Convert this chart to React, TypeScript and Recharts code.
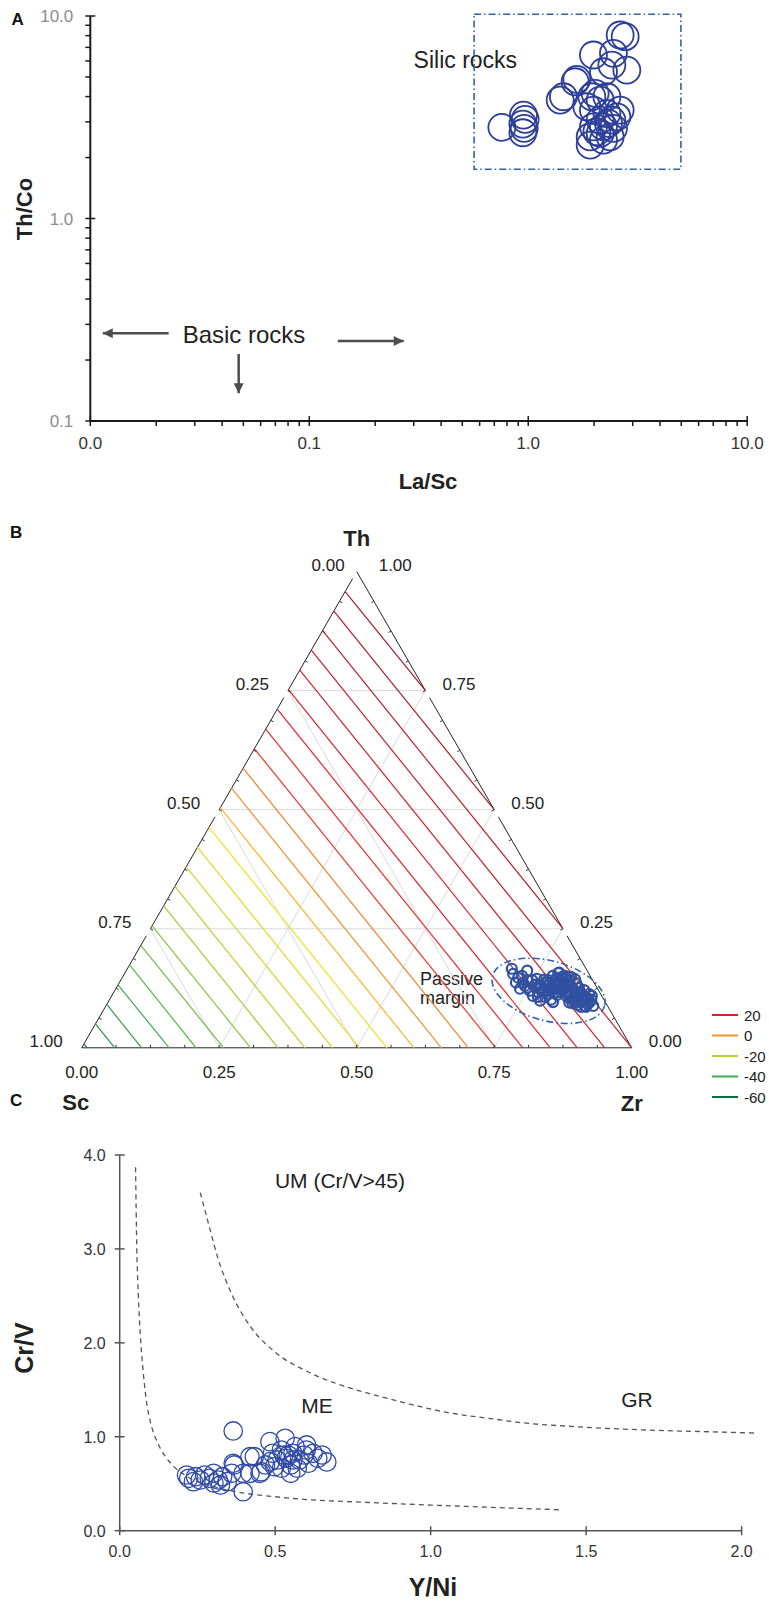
import React from 'react';
import { ComposedChart, Scatter, Line, XAxis, YAxis, ReferenceArea, ReferenceLine } from 'recharts';

const FONT = '"Liberation Sans", Arial, Helvetica, sans-serif';
const BLUE_A = '#2d3f99';
const BLUE_B = '#3050a0';
const BLUE_C = '#2f4aa5';
const BOX_BLUE = '#2f62ad';

// ---------------- Panel A data ----------------
const laScA = [0.758, 0.951, 0.968, 0.945, 0.945, 0.958, 1.399, 1.448, 1.638, 1.667, 1.985, 2.45, 2.771, 2.629, 2.206, 2.82, 2.409, 1.952, 2.021, 2.131, 2.287, 2.629, 1.985, 2.287, 2.131, 2.409, 1.985, 2.206, 2.45, 1.918, 2.131, 2.367, 1.918, 2.206, 2.058, 2.325, 1.852, 2.539];
const thCoA = [2.818, 3.242, 3.087, 2.926, 2.651, 2.786, 3.846, 3.993, 4.734, 4.866, 6.418, 6.543, 7.903, 8.057, 5.304, 5.408, 5.725, 3.993, 4.15, 3.846, 3.993, 3.432, 3.432, 3.305, 3.062, 3.062, 2.837, 2.837, 2.786, 2.532, 2.632, 2.532, 2.304, 2.439, 2.681, 2.949, 3.563, 3.179];
const silicBoxLaSc = [0.566, 4.98];
const silicBoxThCo = [1.75, 10.2];
const arrowLeftLaSc = [0.0228, 0.0114];
const arrowLeftThCo = [0.271, 0.271];
const arrowRightLaSc = [0.135, 0.27];
const arrowRightThCo = [0.248, 0.248];
const arrowDownLaSc = [0.0476, 0.0476];
const arrowDownThCo = [0.214, 0.137];
const xMajorA = [0.01, 0.1, 1, 10];
const xMajorLabelsA = ['0.0', '0.1', '1.0', '10.0'];
const xMinorA = [0.02, 0.03, 0.04, 0.05, 0.06, 0.07, 0.08, 0.09, 0.2, 0.3, 0.4, 0.5, 0.6, 0.7, 0.8, 0.9, 2, 3, 4, 5, 6, 7, 8, 9];
const yMajorA = [0.1, 1, 10];
const yMajorLabelsA = ['0.1', '1.0', '10.0'];
const yMinorA = [0.2, 0.3, 0.4, 0.5, 0.6, 0.7, 0.8, 0.9, 2, 3, 4, 5, 6, 7, 8, 9];

// ---------------- Panel B data (ternary Th / Zr fractions; Sc = 1 - Th - Zr) ----------------
const thB = [0.155, 0.147, 0.137, 0.151, 0.13, 0.141, 0.124, 0.12, 0.132, 0.109, 0.116, 0.126, 0.107, 0.12, 0.143, 0.137, 0.151, 0.145, 0.158, 0.149, 0.13, 0.12, 0.134, 0.141, 0.116, 0.124, 0.109, 0.103, 0.116, 0.099, 0.107, 0.092, 0.101, 0.088, 0.088, 0.09, 0.103, 0.107, 0.116, 0.101, 0.099, 0.162, 0.166, 0.124, 0.151, 0.095, 0.086, 0.113, 0.13, 0.145,
  0.132, 0.121, 0.136, 0.113, 0.126, 0.138, 0.111, 0.142, 0.117, 0.13, 0.147, 0.115, 0.132, 0.149, 0.119, 0.136, 0.1, 0.126, 0.111, 0.121, 0.103, 0.096, 0.109, 0.124, 0.136, 0.094, 0.119, 0.096, 0.142, 0.126, 0.136, 0.107, 0.157, 0.144, 0.109, 0.096, 0.086, 0.096, 0.142, 0.144];
const zrB = [0.707, 0.72, 0.721, 0.725, 0.741, 0.741, 0.735, 0.755, 0.758, 0.766, 0.772, 0.772, 0.789, 0.788, 0.769, 0.783, 0.781, 0.79, 0.789, 0.799, 0.801, 0.815, 0.813, 0.816, 0.83, 0.831, 0.842, 0.851, 0.848, 0.862, 0.863, 0.874, 0.876, 0.886, 0.871, 0.857, 0.84, 0.829, 0.805, 0.803, 0.784, 0.729, 0.699, 0.808, 0.803, 0.839, 0.865, 0.866, 0.783, 0.755,
  0.767, 0.778, 0.776, 0.793, 0.792, 0.792, 0.809, 0.799, 0.813, 0.812, 0.807, 0.825, 0.822, 0.815, 0.836, 0.831, 0.85, 0.841, 0.854, 0.853, 0.868, 0.876, 0.873, 0.799, 0.807, 0.845, 0.783, 0.809, 0.748, 0.747, 0.734, 0.776, 0.788, 0.803, 0.832, 0.849, 0.874, 0.858, 0.777, 0.825];
const passiveEllipseTh = 0.1196;
const passiveEllipseZr = 0.789;
const contourLevels = [-52, -48, -44, -40, -36, -32, -28, -24, -20, -16, -12, -8, -4, 0, 4, 8, 12, 16, 20, 24, 28, 32, 36, 40];
const contourStartTh = [0.008, 0.05, 0.091, 0.132, 0.174, 0.215, 0.256, 0.298, 0.339, 0.38, 0.421, 0.463, 0.504, 0.545, 0.587, 0.628, 0.669, 0.711, 0.752, 0.793, 0.835, 0.876, 0.917, 0.958];
const contourEndZr = [0.01, 0.06, 0.109, 0.159, 0.208, 0.258, 0.307, 0.357, 0.406, 0.456, 0.505, 0.555, 0.604, 0.654, 0.703, 0.753, 0.802, 0.852, 0.901, 0.951, 1.0, 0.75, 0.5, 0.25];
const contourEndTh = [0, 0, 0, 0, 0, 0, 0, 0, 0, 0, 0, 0, 0, 0, 0, 0, 0, 0, 0, 0, 0, 0.25, 0.5, 0.75];
const legendLevels = [20, 0, -20, -40, -60];
const ternLabelValues = [0, 0.25, 0.5, 0.75, 1];
const ternGridValues = [0.25, 0.5, 0.75];
const ternMinorTicks = [0.0625, 0.125, 0.1875, 0.25, 0.3125, 0.375, 0.4375, 0.5, 0.5625, 0.625, 0.6875, 0.75, 0.8125, 0.875, 0.9375];
const leftEdgeSegTh = [[0, 0.235], [0.25, 0.485], [0.5, 0.735], [0.75, 0.985]];
const rightEdgeSegTh = [[0, 0.235], [0.25, 0.485], [0.5, 0.735], [0.75, 1]];

// ---------------- Panel C data ----------------
const yNiC = [0.222, 0.244, 0.259, 0.273, 0.288, 0.302, 0.317, 0.331, 0.346, 0.324, 0.237, 0.36, 0.368, 0.397, 0.365, 0.365, 0.397, 0.419, 0.215, 0.303,
  0.433, 0.455, 0.419, 0.469, 0.491, 0.506, 0.52, 0.535, 0.55, 0.557, 0.564, 0.578, 0.593, 0.607, 0.622, 0.637, 0.651, 0.55, 0.52, 0.484, 0.571, 0.542, 0.498, 0.6, 0.528, 0.557, 0.532, 0.483, 0.601, 0.451, 0.666];
const crVC = [0.558, 0.575, 0.54, 0.593, 0.558, 0.611, 0.54, 0.575, 0.522, 0.487, 0.522, 0.611, 0.7, 0.415, 1.062, 0.718, 0.611, 0.788, 0.593, 0.508,
  0.788, 0.628, 0.611, 0.7, 0.824, 0.753, 0.859, 0.771, 0.7, 0.824, 0.895, 0.753, 0.806, 0.718, 0.824, 0.771, 0.806, 0.611, 0.665, 0.735, 0.665, 0.806, 0.682, 0.859, 0.806, 0.753, 0.984, 0.948, 0.913, 0.611, 0.732];
const curveLowYNi = [0.051, 0.055, 0.06, 0.066, 0.074, 0.085, 0.1, 0.12, 0.145, 0.175, 0.215, 0.27, 0.367, 0.535, 0.826, 1.117, 1.414];
const curveLowCrV = [3.87, 3.0, 2.5, 2.1, 1.75, 1.4, 1.14, 0.95, 0.8, 0.68, 0.58, 0.5, 0.42, 0.35, 0.297, 0.258, 0.223];
const curveHighYNi = [0.259, 0.287, 0.316, 0.36, 0.419, 0.5, 0.6, 0.74, 0.837, 0.955, 1.051, 1.212, 1.266, 1.48, 1.695, 1.909, 2.043];
const curveHighCrV = [3.6, 3.25, 2.9, 2.52, 2.18, 1.9, 1.7, 1.52, 1.43, 1.33, 1.26, 1.185, 1.16, 1.105, 1.072, 1.052, 1.04];
const xTicksC = [0, 0.5, 1, 1.5, 2];
const yTicksC = [0, 1, 2, 3, 4];

// ---------------- helpers ----------------
const SQ3 = Math.sqrt(3) / 2;
const tx = (th: number, zr: number) => zr + th / 2;
const ty = (th: number) => th * SQ3;

const colorStops: [number, string][] = [
  [-60, '#0e6b3a'], [-40, '#3daf4f'], [-20, '#c2cf2c'], [-8, '#f5df1c'], [0, '#f29130'],
  [4, '#f0842c'], [8, '#e9382a'], [16, '#e5222a'], [28, '#c6202c'], [40, '#a21c2e'],
];
const hexToRgb = (h: string) => {
  const n = parseInt(h.slice(1), 16);
  return [(n >> 16) & 255, (n >> 8) & 255, n & 255];
};
function levelColor(v: number): string {
  const s = colorStops;
  if (v <= s[0][0]) return s[0][1];
  for (let i = 1; i < s.length; i++) {
    if (v <= s[i][0]) {
      const t = (v - s[i - 1][0]) / (s[i][0] - s[i - 1][0]);
      const a = hexToRgb(s[i - 1][1]);
      const b = hexToRgb(s[i][1]);
      const c = a.map((av, k) => Math.round(av + (b[k] - av) * t));
      return `rgb(${c.join(',')})`;
    }
  }
  return s[s.length - 1][1];
}

const NoDot = () => <g />;

// ---------------- Panel A ----------------
const XTickA = (props: any) => {
  const { x, y, payload } = props;
  const idx = xMajorA.indexOf(payload.value);
  const major = idx >= 0;
  return (
    <g>
      <line x1={x} x2={x} y1={major ? y - 5 : y} y2={y + 5} stroke="#1a1a1a" strokeWidth={1.5} />
      {major && (
        <text x={x} y={y + 28} textAnchor="middle" fontSize={17} fill="#333" fontFamily={FONT}>
          {xMajorLabelsA[idx]}
        </text>
      )}
    </g>
  );
};
const YTickA = (props: any) => {
  const { x, y, payload } = props;
  const idx = yMajorA.indexOf(payload.value);
  const major = idx >= 0;
  return (
    <g>
      <line x1={x - 5} x2={major ? x + 5 : x} y1={y} y2={y} stroke="#1a1a1a" strokeWidth={1.5} />
      {major && (
        <text x={x - 17} y={y + 6} textAnchor="end" fontSize={17} fill="#8c8c8c" fontFamily={FONT}>
          {yMajorLabelsA[idx]}
        </text>
      )}
    </g>
  );
};
const CircleA = (p: any) => (
  <circle cx={p.cx} cy={p.cy} r={13.5} fill="none" stroke={BLUE_A} strokeWidth={1.8} />
);
const ArrowHead = (p: any) => {
  const { cx, cy, payload } = p;
  if (!payload || !payload.head) return <g />;
  let pts = '';
  if (payload.head === 'left') pts = `${cx},${cy} ${cx + 10},${cy - 5} ${cx + 10},${cy + 5}`;
  if (payload.head === 'right') pts = `${cx},${cy} ${cx - 10},${cy - 5} ${cx - 10},${cy + 5}`;
  if (payload.head === 'down') pts = `${cx},${cy} ${cx - 5},${cy - 10} ${cx + 5},${cy - 10}`;
  return <polygon points={pts} fill="#4d4d4d" />;
};
const makeArrow = (xs: number[], ys: number[], head: string) =>
  xs.map((x, i) => ({ x, y: ys[i], head: i === xs.length - 1 ? head : undefined }));

function PanelA() {
  const pts = laScA.map((x, i) => ({ x, y: thCoA[i] }));
  const xTicks = [...xMajorA, ...xMinorA].sort((a, b) => a - b);
  const yTicks = [...yMajorA, ...yMinorA].sort((a, b) => a - b);
  const arrowLine = { stroke: '#4d4d4d', strokeWidth: 2.5 };
  return (
    <ComposedChart width={769} height={501} margin={{ top: 16, right: 21.8, bottom: 0, left: 0 }}>
      <XAxis type="number" dataKey="x" scale="log" domain={[0.01, 10]} allowDataOverflow ticks={xTicks} interval={0}
        tick={XTickA} tickLine={false} tickSize={0} tickMargin={0} height={80}
        axisLine={{ stroke: '#1a1a1a', strokeWidth: 2 }} />
      <YAxis type="number" dataKey="y" scale="log" domain={[0.1, 10]} allowDataOverflow ticks={yTicks} interval={0}
        tick={YTickA} tickLine={false} tickSize={0} tickMargin={0} width={90.3}
        axisLine={{ stroke: '#1a1a1a', strokeWidth: 2 }} />
      <ReferenceArea x1={silicBoxLaSc[0]} x2={silicBoxLaSc[1]} y1={silicBoxThCo[0]} y2={silicBoxThCo[1]}
        fill="none" fillOpacity={0} stroke={BOX_BLUE} strokeWidth={1.6} strokeDasharray="7 3 1.5 3" ifOverflow="visible" />
      <Scatter data={pts} shape={CircleA} isAnimationActive={false} />
      <Scatter data={makeArrow(arrowLeftLaSc, arrowLeftThCo, 'left')} line={arrowLine} shape={ArrowHead} isAnimationActive={false} />
      <Scatter data={makeArrow(arrowRightLaSc, arrowRightThCo, 'right')} line={arrowLine} shape={ArrowHead} isAnimationActive={false} />
      <Scatter data={makeArrow(arrowDownLaSc, arrowDownThCo, 'down')} line={arrowLine} shape={ArrowHead} isAnimationActive={false} />
      <text x={11.5} y={24.5} fontSize={17} fontWeight="bold" fill="#111" fontFamily={FONT}>A</text>
      <text x={413.6} y={68} fontSize={23} fill="#222" fontFamily={FONT}>Silic rocks</text>
      <text x={244} y={342.5} fontSize={24} fill="#222" textAnchor="middle" fontFamily={FONT}>Basic rocks</text>
      <text x={428} y={489} fontSize={22} fontWeight="bold" fill="#222" textAnchor="middle" fontFamily={FONT}>La/Sc</text>
      <text x={24} y={209} fontSize={22} fontWeight="bold" fill="#222" textAnchor="middle" dominantBaseline="central"
        transform="rotate(-90 24 209)" fontFamily={FONT}>Th/Co</text>
    </ComposedChart>
  );
}

// ---------------- Panel B ----------------
const CircleB = (p: any) => (
  <circle cx={p.cx} cy={p.cy} r={5} fill="none" stroke={BLUE_B} strokeWidth={2.2} />
);
const EllipseB = (p: any) => (
  <ellipse cx={p.cx} cy={p.cy} rx={58} ry={30} transform={`rotate(15 ${p.cx} ${p.cy})`} fill="none"
    stroke={BOX_BLUE} strokeWidth={1.6} strokeDasharray="7 3 1.5 3" />
);
const TernTick = (p: any) => {
  const { cx, cy, payload } = p;
  let dx = 0, dy = -3;
  if (payload.edge === 'left') { dx = 2.6; dy = 1.5; }
  if (payload.edge === 'right') { dx = -2.6; dy = 1.5; }
  return <line x1={cx} y1={cy} x2={cx + dx} y2={cy + dy} stroke="#333" strokeWidth={1} />;
};
const TernLabel = (p: any) => {
  const { cx, cy, payload } = p;
  const common = { fontFamily: FONT, fill: '#222' };
  const apex = payload.text === '0.00' && payload.edge === 'left' || payload.text === '1.00' && payload.edge === 'right';
  switch (payload.edge) {
    case 'left':
      return <text x={cx - (apex ? 12 : 19)} y={cy - 1} textAnchor="end" fontSize={17} {...common}>{payload.text}</text>;
    case 'right':
      return <text x={cx + (apex ? 22 : 17)} y={cy - 1} textAnchor="start" fontSize={17} {...common}>{payload.text}</text>;
    case 'base':
      return <text x={cx} y={cy + 30} textAnchor="middle" fontSize={17} {...common}>{payload.text}</text>;
    case 'cornerTop':
      return <text x={cx} y={cy - 26} textAnchor="middle" fontSize={22} fontWeight="bold" {...common}>{payload.text}</text>;
    case 'cornerSc':
      return <text x={cx - 6} y={cy + 62} textAnchor="middle" fontSize={22} fontWeight="bold" {...common}>{payload.text}</text>;
    case 'cornerZr':
      return <text x={cx} y={cy + 63} textAnchor="middle" fontSize={22} fontWeight="bold" {...common}>{payload.text}</text>;
    default:
      return <g />;
  }
};
const fmt2 = (v: number) => v.toFixed(2);

function PanelB() {
  const pts = thB.map((th, i) => ({ x: tx(th, zrB[i]), y: ty(th) }));
  const contours = contourLevels.map((lv, i) => ({
    level: lv,
    data: [
      { x: tx(contourStartTh[i], 0), y: ty(contourStartTh[i]) },
      { x: tx(contourEndTh[i], contourEndZr[i]), y: ty(contourEndTh[i]) },
    ],
  }));
  const grid: { x: number; y: number }[][] = [];
  ternGridValues.forEach((v) => {
    grid.push([{ x: tx(v, 0), y: ty(v) }, { x: tx(v, 1 - v), y: ty(v) }]); // Th = v
    grid.push([{ x: tx(0, v), y: 0 }, { x: tx(1 - v, v), y: ty(1 - v) }]); // Zr = v
    grid.push([{ x: tx(0, 1 - v), y: 0 }, { x: tx(1 - v, 0), y: ty(1 - v) }]); // Sc = v
  });
  const edges: { x: number; y: number }[][] = [];
  edges.push([{ x: 0, y: 0 }, { x: 1, y: 0 }]);
  leftEdgeSegTh.forEach(([a, b]) => edges.push([{ x: tx(a, 0), y: ty(a) }, { x: tx(b, 0), y: ty(b) }]));
  rightEdgeSegTh.forEach(([a, b]) => edges.push([{ x: tx(a, 1 - a), y: ty(a) }, { x: tx(b, 1 - b), y: ty(b) }]));
  const ticks = [
    ...ternMinorTicks.map((f) => ({ x: f, y: 0, edge: 'base' })),
    ...ternMinorTicks.map((f) => ({ x: tx(f, 0), y: ty(f), edge: 'left' })),
    ...ternMinorTicks.map((f) => ({ x: tx(f, 1 - f), y: ty(f), edge: 'right' })),
  ];
  const labels = [
    ...ternLabelValues.map((v) => ({ x: tx(1 - v, 0), y: ty(1 - v), text: fmt2(v), edge: 'left' })),
    ...ternLabelValues.map((v) => ({ x: tx(v, 1 - v), y: ty(v), text: fmt2(v), edge: 'right' })),
    ...ternLabelValues.map((v) => ({ x: tx(0, v), y: 0, text: fmt2(v), edge: 'base' })),
    { x: tx(1, 0), y: ty(1), text: 'Th', edge: 'cornerTop' },
    { x: 0, y: 0, text: 'Sc', edge: 'cornerSc' },
    { x: 1, y: 0, text: 'Zr', edge: 'cornerZr' },
  ];
  const legendTop = 510;
  return (
    <ComposedChart width={769} height={610} margin={{ top: 66.5, right: 137.3, bottom: 67.2, left: 81.7 }}>
      <XAxis type="number" dataKey="x" domain={[0, 1]} hide />
      <YAxis type="number" dataKey="y" domain={[0, SQ3]} hide />
      {grid.map((seg, i) => (
        <ReferenceLine key={'g' + i} segment={seg} stroke="#dadada" strokeWidth={1} ifOverflow="visible" />
      ))}
      {contours.map((c, i) => (
        <Scatter key={'c' + i} data={c.data} line={{ stroke: levelColor(c.level), strokeWidth: 1.2 }} shape={NoDot}
          isAnimationActive={false} />
      ))}
      {edges.map((seg, i) => (
        <ReferenceLine key={'e' + i} segment={seg} stroke="#222" strokeWidth={1} ifOverflow="visible" />
      ))}
      <Scatter data={ticks} shape={TernTick} isAnimationActive={false} />
      <Scatter data={pts} shape={CircleB} isAnimationActive={false} />
      <Scatter data={[{ x: tx(passiveEllipseTh, passiveEllipseZr), y: ty(passiveEllipseTh) }]} shape={EllipseB}
        isAnimationActive={false} />
      <Scatter data={labels} shape={TernLabel} isAnimationActive={false} />
      <text x={10} y={33} fontSize={17} fontWeight="bold" fill="#111" fontFamily={FONT}>B</text>
      <text x={420} y={479.5} fontSize={18} fill="#222" fontFamily={FONT}>Passive</text>
      <text x={420} y={499} fontSize={18} fill="#222" fontFamily={FONT}>margin</text>
      {legendLevels.map((lv, i) => (
        <g key={'l' + i}>
          <line x1={712} x2={738} y1={legendTop + i * 20.5} y2={legendTop + i * 20.5} stroke={levelColor(lv)} strokeWidth={2} />
          <text x={744} y={legendTop + i * 20.5 + 5.5} fontSize={15} fill="#222" fontFamily={FONT}>{String(lv)}</text>
        </g>
      ))}
    </ComposedChart>
  );
}

// ---------------- Panel C ----------------
const XTickC = (props: any) => {
  const { x, y, payload } = props;
  return (
    <g>
      <line x1={x} x2={x} y1={y - 4.5} y2={y + 4.5} stroke="#555" strokeWidth={1.5} />
      <text x={x} y={y + 26} textAnchor="middle" fontSize={16} fill="#333" fontFamily={FONT}>
        {payload.value.toFixed(1)}
      </text>
    </g>
  );
};
const YTickC = (props: any) => {
  const { x, y, payload } = props;
  return (
    <g>
      <line x1={x - 5} x2={x + 5} y1={y} y2={y} stroke="#555" strokeWidth={1.5} />
      <text x={x - 14} y={y + 6} textAnchor="end" fontSize={16} fill="#333" fontFamily={FONT}>
        {payload.value.toFixed(1)}
      </text>
    </g>
  );
};
const CircleC = (p: any) => (
  <circle cx={p.cx} cy={p.cy} r={9.2} fill="none" stroke={BLUE_C} strokeWidth={1.3} />
);

function PanelC() {
  const pts = yNiC.map((x, i) => ({ x, y: crVC[i] }));
  const low = curveLowYNi.map((x, i) => ({ x, y: curveLowCrV[i] }));
  const high = curveHighYNi.map((x, i) => ({ x, y: curveHighCrV[i] }));
  return (
    <ComposedChart width={769} height={516} margin={{ top: 70, right: 11.8, bottom: 0, left: 0 }}>
      <XAxis type="number" dataKey="x" domain={[0, 2.05]} allowDataOverflow ticks={xTicksC} interval={0}
        tick={XTickC} tickLine={false} tickSize={0} tickMargin={0} height={70.3} axisLine={false} />
      <YAxis type="number" dataKey="y" domain={[0, 4]} allowDataOverflow ticks={yTicksC} interval={0}
        tick={YTickC} tickLine={false} tickSize={0} tickMargin={0} width={119.7}
        axisLine={{ stroke: '#555', strokeWidth: 1.5 }} />
      <ReferenceLine segment={[{ x: 0, y: 0 }, { x: 2, y: 0 }]} stroke="#555" strokeWidth={1.5} ifOverflow="visible" />
      <Line data={low} dataKey="y" type="monotone" stroke="#555" strokeWidth={1.3} strokeDasharray="5 4" dot={false}
        isAnimationActive={false} />
      <Line data={high} dataKey="y" type="monotone" stroke="#555" strokeWidth={1.3} strokeDasharray="5 4" dot={false}
        isAnimationActive={false} />
      <Scatter data={pts} shape={CircleC} isAnimationActive={false} />
      <text x={10} y={21} fontSize={17} fontWeight="bold" fill="#111" fontFamily={FONT}>C</text>
      <text x={340} y={103} fontSize={21} fill="#222" textAnchor="middle" fontFamily={FONT}>UM (Cr/V&gt;45)</text>
      <text x={317} y={328} fontSize={21} fill="#222" textAnchor="middle" fontFamily={FONT}>ME</text>
      <text x={637} y={321.7} fontSize={21} fill="#222" textAnchor="middle" fontFamily={FONT}>GR</text>
      <text x={433} y={511} fontSize={25} fontWeight="bold" fill="#222" textAnchor="middle" fontFamily={FONT}>Y/Ni</text>
      <text x={24} y={263} fontSize={25} fontWeight="bold" fill="#222" textAnchor="middle" dominantBaseline="central"
        transform="rotate(-90 24 263)" fontFamily={FONT}>Cr/V</text>
    </ComposedChart>
  );
}

export default function App() {
  return (
    <div style={{ position: 'absolute', left: 0, top: 0, width: 769, height: 1601, background: '#fff', fontFamily: FONT }}>
      <div style={{ position: 'absolute', left: 0, top: 0 }}>
        <PanelA />
      </div>
      <div style={{ position: 'absolute', left: 0, top: 505 }}>
        <PanelB />
      </div>
      <div style={{ position: 'absolute', left: 0, top: 1085 }}>
        <PanelC />
      </div>
    </div>
  );
}
